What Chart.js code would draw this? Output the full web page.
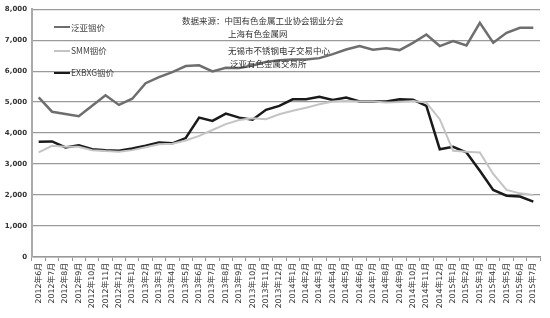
<!DOCTYPE html>
<html><head><meta charset="utf-8">
<script src="https://cdn.jsdelivr.net/npm/chart.js@4"></script>
<style>
html,body{margin:0;padding:0;background:#fff;}
#wrap{position:relative;width:550px;height:318px;}
canvas{position:absolute;left:0;top:0;}
.t{position:absolute;font-family:"Noto Sans CJK SC","DejaVu Sans",sans-serif;font-size:8.5px;color:#333;white-space:nowrap;line-height:10px;}
.lg{position:absolute;height:0;width:16px;}
</style></head>
<body><div id="wrap"><canvas id="c" width="550" height="318"></canvas>
<div class="lg" style="left:54px;top:26px;border-top:2.5px solid #6e6e6e"></div>
<div class="t" style="left:71px;top:22px;color:#444">泛亚铟价</div>
<div class="lg" style="left:54px;top:49.5px;border-top:2px solid #c4c4c4"></div>
<div class="t" style="left:71px;top:45px;color:#444">SMM铟价</div>
<div class="lg" style="left:54px;top:71.5px;border-top:2.5px solid #1a1a1a"></div>
<div class="t" style="left:71px;top:67px;color:#444">EXBXG铟价</div>
<div class="t" style="left:182px;top:15px">数据来源：中国有色金属工业协会铟业分会</div>
<div class="t" style="left:228px;top:28px">上海有色金属网</div>
<div class="t" style="left:228px;top:45px">无锡市不锈钢电子交易中心</div>
<div class="t" style="left:230px;top:58px">泛亚有色金属交易所</div>
</div>
<script>
const categories = ["2012年6月","2012年7月","2012年8月","2012年9月","2012年10月","2012年11月","2012年12月",
"2013年1月","2013年2月","2013年3月","2013年4月","2013年5月","2013年6月","2013年7月","2013年8月","2013年9月","2013年10月","2013年11月","2013年12月",
"2014年1月","2014年2月","2014年3月","2014年4月","2014年5月","2014年6月","2014年7月","2014年8月","2014年9月","2014年10月","2014年11月","2014年12月",
"2015年1月","2015年2月","2015年3月","2015年4月","2015年5月","2015年6月","2015年7月"];
const fanya = [5150,4690,4620,4545,4880,5220,4910,5110,5610,5810,5970,6165,6190,5990,6110,6100,6180,6300,6350,6380,6380,6420,6550,6700,6810,6690,6740,6680,6915,7185,6810,6970,6830,7560,6915,7240,7400,7400];
const smm = [3375,3590,3560,3560,3450,3420,3400,3450,3540,3640,3660,3760,3910,4100,4290,4420,4480,4450,4610,4720,4820,4930,5020,5040,5020,5020,4985,5000,5040,4985,4450,3430,3400,3375,2680,2165,2055,2000];
const exbxg = [3720,3730,3535,3610,3480,3450,3430,3500,3590,3700,3670,3840,4500,4395,4630,4500,4430,4750,4880,5090,5090,5170,5070,5145,5020,5020,5020,5090,5080,4880,3480,3560,3375,2785,2165,1980,1950,1790];
const yTicks = [0,1000,2000,3000,4000,5000,6000,7000,8000];

new Chart(document.getElementById('c'), {
  type: 'line',
  data: {
    labels: categories,
    datasets: [
      {label:'泛亚铟价', data: fanya, borderColor:'#6e6e6e', borderWidth:2.5, pointRadius:0, tension:0, fill:false},
      {label:'SMM铟价', data: smm, borderColor:'#c4c4c4', borderWidth:2, pointRadius:0, tension:0, fill:false},
      {label:'EXBXG铟价', data: exbxg, borderColor:'#1a1a1a', borderWidth:2.5, pointRadius:0, tension:0, fill:false}
    ]
  },
  options: {
    responsive:false, animation:false, devicePixelRatio:1,
    layout:{padding:{top:8,right:10,left:0,bottom:0}},
    plugins:{legend:{display:false}, tooltip:{enabled:false}},
    scales:{
      x:{
        offset:true,
        grid:{offset:true, drawOnChartArea:false, drawTicks:true, tickLength:4, color:'#999'},
        border:{display:true, color:'#999', width:1.5},
        ticks:{autoSkip:false, maxRotation:90, minRotation:90, padding:2,
          font:{family:'"DejaVu Sans","Noto Sans CJK SC",sans-serif', size:7.8}, color:'#333'},
        afterFit:(s)=>{s.height=61;}
      },
      y:{
        min:0, max:8000,
        afterBuildTicks:(s)=>{s.ticks = yTicks.map(v=>({value:v}));},
        grid:{color:'#9a9a9a', lineWidth:1.3, drawTicks:false},
        border:{display:true, color:'#aaa', width:2},
        ticks:{padding:5, font:{family:'"DejaVu Sans",sans-serif', size:7, weight:'bold'}, color:'#333'},
        afterFit:(s)=>{s.width=32;}
      }
    }
  }
});
</script></body></html>
